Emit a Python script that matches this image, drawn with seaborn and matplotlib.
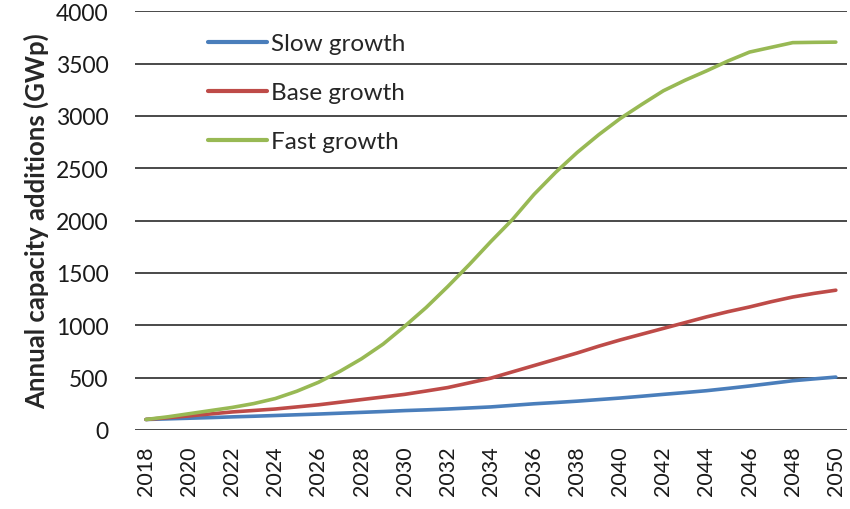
import matplotlib
matplotlib.use("Agg")
import matplotlib.pyplot as plt
import seaborn as sns
import pandas as pd

years = list(range(2018, 2051))
slow = [100, 106, 112, 118, 125, 131, 138, 145, 152, 160, 168, 176, 185, 192, 200, 210,
        220, 235, 250, 262, 275, 290, 305, 322, 340, 357, 375, 397, 420, 445, 470, 488, 505]
base = [100, 117, 134, 153, 172, 186, 200, 220, 240, 265, 290, 315, 340, 372, 405, 450,
        495, 555, 615, 675, 735, 800, 860, 915, 970, 1025, 1080, 1130, 1175, 1225, 1270, 1305, 1335]
fast = [100, 125, 155, 185, 215, 252, 300, 370, 455, 560, 680, 820, 990, 1170, 1370, 1580,
        1800, 2010, 2250, 2460, 2650, 2820, 2975, 3110, 3240, 3340, 3430, 3525, 3610, 3655, 3700, 3703, 3705]
series_names = ["Slow growth", "Base growth", "Fast growth"]
colors = ["#4a7ebb", "#be4b48", "#98b954"]
y_ticks = [0, 500, 1000, 1500, 2000, 2500, 3000, 3500, 4000]
x_ticks = list(range(2018, 2051, 2))

df = pd.DataFrame({
    "year": years * 3,
    "value": slow + base + fast,
    "series": [series_names[0]] * len(years) + [series_names[1]] * len(years) + [series_names[2]] * len(years),
})

sns.set_theme(style="white")
plt.rcParams["font.family"] = ["Lato", "DejaVu Sans"]

fig = plt.figure(figsize=(8.5, 5.1), dpi=100)
ax = fig.add_axes([0.159, 0.155, 0.837, 0.821])

sns.lineplot(data=df, x="year", y="value", hue="series", hue_order=series_names,
             palette=colors, linewidth=2.6, ax=ax)

ax.set_xlim(2017.5, 2050.5)
ax.set_ylim(0, 4000)
ax.set_yticks(y_ticks)
ax.set_yticklabels([str(v) for v in y_ticks], fontsize=16.5, color="#1a1a1a")
ax.set_xticks(x_ticks)
ax.set_xticklabels([str(v) for v in x_ticks], rotation=90, fontsize=15.5, color="#1a1a1a")
ax.tick_params(axis="both", length=0)
ax.tick_params(axis="y", pad=19)
ax.tick_params(axis="x", pad=11)

ax.grid(axis="y", color="#3a3a3a", linewidth=1.3)
ax.set_axisbelow(True)
for s in ["top", "right", "left", "bottom"]:
    ax.spines[s].set_visible(False)

ax.set_xlabel("")
ax.set_ylabel("Annual capacity additions (GWp)", fontsize=18.5, fontweight="bold", labelpad=5)

leg = ax.legend(loc="upper left", bbox_to_anchor=(0.072, 1.0), frameon=False,
                fontsize=17.5, handlelength=2.4, handletextpad=0.2, labelspacing=1.15)
for line in leg.get_lines():
    line.set_linewidth(3)

fig.savefig("out.png", dpi=100)
